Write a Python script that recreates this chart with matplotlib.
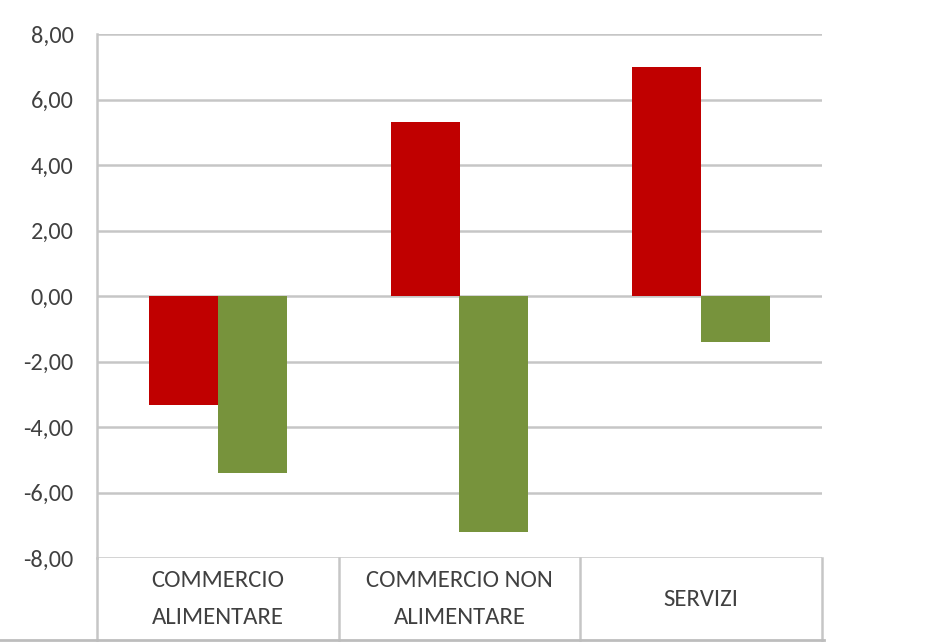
import matplotlib
matplotlib.use("Agg")
import matplotlib.pyplot as plt
from matplotlib.lines import Line2D
import numpy as np

categories = ["COMMERCIO\nALIMENTARE", "COMMERCIO NON\nALIMENTARE", "SERVIZI"]
serie_rossa = [-3.33, 5.31, 6.99]
serie_verde = [-5.39, -7.22, -1.40]
yticks = [-8, -6, -4, -2, 0, 2, 4, 6, 8]

plt.rcParams['font.family'] = ['Carlito', 'DejaVu Sans']

RED = "#C00000"
GREEN = "#77933C"
GRID = "#c6c6c6"
TXT = "#404040"

fig = plt.figure(figsize=(9.52, 6.42), dpi=100)
ax = fig.add_axes([97/952, 1-558/642, (822-97)/952, (558-34)/642])

x = np.arange(len(categories))
w = 0.285
ax.bar(x - w/2, serie_rossa, width=w, color=RED, zorder=3)
ax.bar(x + w/2, serie_verde, width=w, color=GREEN, zorder=3)

ax.set_xlim(-0.5, len(categories) - 0.5)
ax.set_ylim(-8, 8)
ax.set_yticks(yticks)
ax.set_yticklabels([f"{v:.2f}".replace(".", ",") for v in yticks], fontsize=17.5, color=TXT)
ax.tick_params(axis='y', length=0, pad=17)
ax.set_xticks([])
ax.yaxis.grid(True, color=GRID, linewidth=1.8, zorder=0)
for s in ["top", "right", "bottom"]:
    ax.spines[s].set_visible(False)
ax.spines["left"].set_color(GRID)
ax.spines["left"].set_linewidth(1.8)

# category table below the axis
bottom_ax = -(642-558)/(558-34)
for b in np.arange(len(categories) + 1) - 0.5:
    ax.add_line(Line2D([b, b], [bottom_ax, 0], transform=ax.get_xaxis_transform(),
                       color=GRID, linewidth=1.8, clip_on=False))
# bottom border line running from the figure's left edge
fig.add_artist(Line2D([0, 824/952], [1-640/642, 1-640/642], transform=fig.transFigure,
                      color="#bdbdbd", linewidth=2.0))
ycenter = -(599-558)/(558-34)
for xi, lab in zip(x, categories):
    ax.text(xi, ycenter, lab, transform=ax.get_xaxis_transform(), ha='center', va='center',
            fontsize=17.8, color=TXT, linespacing=1.95)

fig.savefig("out.png", dpi=100, facecolor="white")
